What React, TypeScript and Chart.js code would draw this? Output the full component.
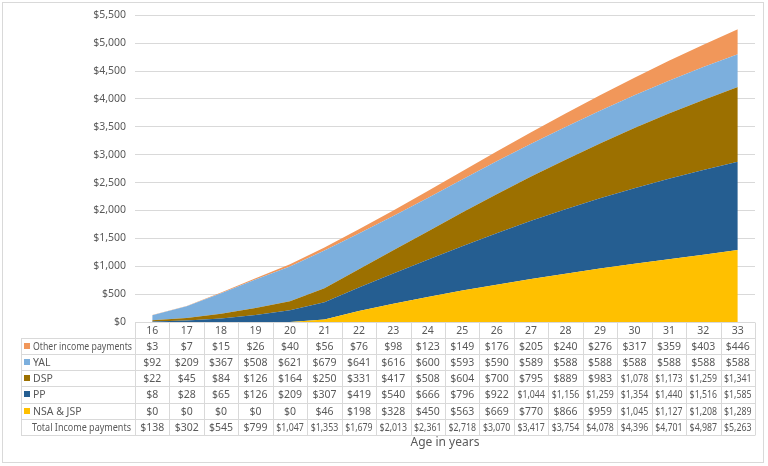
import React, { useEffect, useRef } from "react";
import { Chart, registerables } from "chart.js";

Chart.register(...registerables);

const ages = ["16","17","18","19","20","21","22","23","24","25","26","27","28","29","30","31","32","33"];
const otherIncome = [3,7,15,26,40,56,76,98,123,149,176,205,240,276,317,359,403,446];
const yal = [92,209,367,508,621,679,641,616,600,593,590,589,588,588,588,588,588,588];
const dsp = [22,45,84,126,164,250,331,417,508,604,700,795,889,983,1078,1173,1259,1341];
const pp = [8,28,65,126,209,307,419,540,666,796,922,1044,1156,1259,1354,1440,1516,1585];
const nsaJsp = [0,0,0,0,0,46,198,328,450,563,669,770,866,959,1045,1127,1208,1289];
const totals = [138,302,545,799,1047,1353,1679,2013,2361,2718,3070,3417,3754,4078,4396,4701,4987,5263];

const seriesNames = ["Other income payments","YAL","DSP","PP","NSA & JSP"];
const seriesColors = ["#F1975A","#7CAFDD","#9C7000","#255E91","#FFC000"];
const totalLabel = "Total Income payments";
const axisTitle = "Age in years";

const FONT = "'Noto Sans','Open Sans',sans-serif";
const TEXT = "#595959";
const LINE = "#D9D9D9";

const fmt = (v: number) => "$" + v.toLocaleString("en-US");

const tablePlugin = {
  id: "dataTable",
  beforeDraw(chart: any) {
    const ctx = chart.ctx;
    ctx.save();
    ctx.strokeStyle = LINE;
    ctx.lineWidth = 1;
    ctx.strokeRect(2.5, 2.5, 761, 460);
    ctx.restore();
  },
  afterDraw(chart: any) {
    const ctx = chart.ctx;
    const xs = chart.scales.x;
    const area = chart.chartArea;
    const n = ages.length;
    const c0 = xs.getPixelForValue(0);
    const c1 = xs.getPixelForValue(1);
    const colW = c1 - c0;
    const left = c0 - colW / 2;
    const right = xs.getPixelForValue(n - 1) + colW / 2;
    const labelLeft = 21;
    const top = area.bottom;
    const rowH = 16.1;
    const rows = [otherIncome, yal, dsp, pp, nsaJsp, totals];
    const bottom = top + rowH * (rows.length + 1);

    ctx.save();
    ctx.strokeStyle = LINE;
    ctx.lineWidth = 1;
    ctx.beginPath();
    for (let k = 0; k <= rows.length + 1; k++) {
      const y = Math.round(top + k * rowH) + 0.5;
      ctx.moveTo(k === 0 ? left : labelLeft, y);
      ctx.lineTo(right, y);
    }
    const lx = Math.round(labelLeft) + 0.5;
    ctx.moveTo(lx, Math.round(top + rowH) + 0.5);
    ctx.lineTo(lx, Math.round(bottom) + 0.5);
    for (let j = 0; j <= n; j++) {
      const x = Math.round(left + j * colW) + 0.5;
      ctx.moveTo(x, Math.round(top) + 0.5);
      ctx.lineTo(x, Math.round(bottom) + 0.5);
    }
    ctx.stroke();

    ctx.fillStyle = TEXT;
    ctx.font = "10.5px " + FONT;
    ctx.textBaseline = "middle";
    ctx.textAlign = "center";
    const cellMax = colW - 7;
    for (let i = 0; i < n; i++) {
      const cx = xs.getPixelForValue(i);
      ctx.fillText(ages[i], cx, top + rowH / 2 + 1, cellMax);
      rows.forEach((r, k) => {
        ctx.fillText(fmt(r[i]), cx, top + (k + 1) * rowH + rowH / 2 + 1, cellMax);
      });
    }
    ctx.textAlign = "left";
    rows.forEach((_, k) => {
      const cy = top + (k + 1) * rowH + rowH / 2;
      if (k < seriesNames.length) {
        ctx.fillStyle = seriesColors[k];
        ctx.fillRect(24, Math.round(cy) - 3, 6, 6);
        ctx.fillStyle = TEXT;
        ctx.fillText(seriesNames[k], 33, cy + 1, left - 36);
      } else {
        ctx.fillStyle = TEXT;
        ctx.fillText(totalLabel, 32, cy + 1, left - 36);
      }
    });

    ctx.font = "12px " + FONT;
    ctx.textAlign = "center";
    ctx.fillText(axisTitle, (left + right) / 2, 443);
    ctx.restore();
  },
};

export default function App() {
  const ref = useRef<HTMLCanvasElement>(null);
  useEffect(() => {
    document.body.style.margin = "0";
    const canvas = ref.current!;
    const stackOrder = [4, 3, 2, 1, 0];
    const dataArrays = [otherIncome, yal, dsp, pp, nsaJsp];
    const datasets = stackOrder.map((idx, k) => ({
      label: seriesNames[idx],
      data: dataArrays[idx],
      backgroundColor: seriesColors[idx],
      borderWidth: 0,
      pointRadius: 0,
      fill: k === 0 ? "origin" : "-1",
      tension: 0,
    }));
    const chart = new Chart(canvas, {
      type: "line",
      data: { labels: ages, datasets },
      options: {
        responsive: false,
        animation: false,
        layout: { padding: { top: 6, right: 13, bottom: 144, left: 0 } },
        plugins: { legend: { display: false }, tooltip: { enabled: false } },
        scales: {
          x: { display: false, offset: true },
          y: {
            stacked: true,
            min: 0,
            max: 5500,
            border: { display: false },
            grid: { color: LINE, drawTicks: false },
            ticks: {
              stepSize: 500,
              padding: 9,
              color: TEXT,
              font: { family: FONT, size: 10.5 },
              callback: (v: any) => fmt(Number(v)),
            },
            afterFit: (s: any) => { s.width = 135; },
          },
        },
      },
      plugins: [tablePlugin],
    });
    return () => chart.destroy();
  }, []);
  return <canvas ref={ref} width={768} height={466} style={{ display: "block" }} />;
}
